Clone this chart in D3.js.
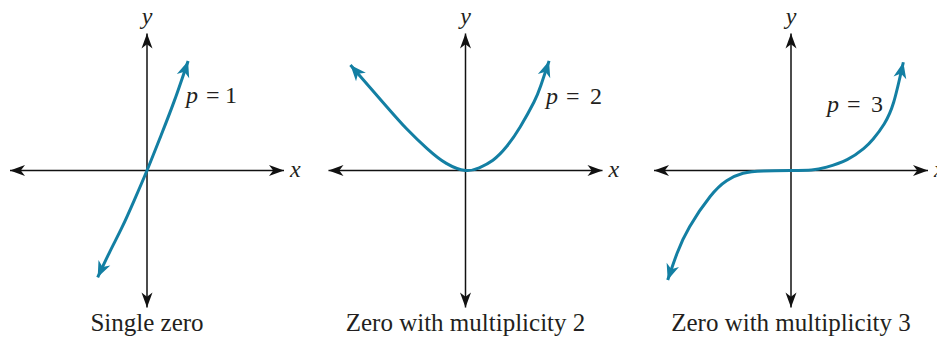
<!DOCTYPE html>
<html>
<head>
<meta charset="utf-8">
<script src="https://cdn.jsdelivr.net/npm/d3@7"></script>
<style>
  body { margin: 0; background: #fff; }
  text { font-family: "Liberation Serif", "DejaVu Serif", serif; fill: #231f20; }
</style>
</head>
<body>
<script>
// panel captions and labels
var captions = ["Single zero", "Zero with multiplicity 2", "Zero with multiplicity 3"];
var powers = ["1", "2", "3"];

// curve points, in axis units (axes run -10..10)
var curve1 = [[-3.6, -7.8], [-2.7, -5.9], [-1.8, -4.1], [-0.9, -2.1], [0, 0], [1.0, 2.5], [2.0, 5.1], [3.0, 8.0]];
var curve2 = [[-8.4, 7.7], [-5.75, 4.66], [-4.3, 3.05], [-2.8, 1.6], [-1.4, 0.52], [0, 0],
              [1.0, 0.2], [2.0, 0.75], [3.0, 1.75], [4.0, 3.2], [5.0, 5.0], [5.5, 6.2], [6.1, 8.0]];
var curve3 = [[-9.0, -8.0], [-8.3, -6.0], [-7.4, -4.1], [-5.9, -1.9], [-4.7, -0.75], [-3.5, -0.2], [-2.0, -0.03], [0, 0],
              [1.5, 0.04], [2.6, 0.25], [4.1, 0.8], [5.3, 1.6], [6.0, 2.3], [6.8, 3.4], [7.5, 5.0], [8.2, 7.9]];
var curves = [curve1, curve2, curve3];

var centers = [147, 465.5, 791];
var cy = 170.5, half = 137;
var teal = "#137fa3", ink = "#111";

var svg = d3.select("body").append("svg")
  .attr("width", 937)
  .attr("height", 339);

var defs = svg.append("defs");
function addMarker(id, color, len, w) {
  defs.append("marker")
    .attr("id", id)
    .attr("viewBox", (-len - 1) + " " + (-w - 1) + " " + (len + 2) + " " + (2 * w + 2))
    .attr("markerWidth", len + 2)
    .attr("markerHeight", 2 * w + 2)
    .attr("markerUnits", "userSpaceOnUse")
    .attr("refX", 0)
    .attr("refY", 0)
    .attr("orient", "auto-start-reverse")
    .append("path")
    .attr("d", "M0,0 L" + (-len) + "," + (-w) + " L" + (-len * 0.72) + ",0 L" + (-len) + "," + w + " Z")
    .attr("fill", color);
}
addMarker("axArrow", ink, 15, 5.5);
addMarker("cvArrow", teal, 16, 6.5);

centers.forEach(function(cx, i) {
  var x = d3.scaleLinear().domain([-10, 10]).range([cx - half, cx + half]);
  var y = d3.scaleLinear().domain([-10, 10]).range([cy + half, cy - half]);
  var g = svg.append("g");

  g.append("line")
    .attr("x1", x(-10)).attr("x2", x(10))
    .attr("y1", y(0)).attr("y2", y(0))
    .attr("stroke", ink).attr("stroke-width", 1.5)
    .attr("marker-start", "url(#axArrow)")
    .attr("marker-end", "url(#axArrow)");
  g.append("line")
    .attr("x1", x(0)).attr("x2", x(0))
    .attr("y1", y(-10)).attr("y2", y(10))
    .attr("stroke", ink).attr("stroke-width", 1.5)
    .attr("marker-start", "url(#axArrow)")
    .attr("marker-end", "url(#axArrow)");

  var line = d3.line()
    .x(function(d) { return x(d[0]); })
    .y(function(d) { return y(d[1]); })
    .curve(d3.curveNatural);

  g.append("path")
    .datum(curves[i])
    .attr("d", line)
    .attr("fill", "none")
    .attr("stroke", teal)
    .attr("stroke-width", 3)
    .attr("marker-start", "url(#cvArrow)")
    .attr("marker-end", "url(#cvArrow)");

  g.append("text")
    .attr("x", x(0)).attr("y", 24)
    .attr("text-anchor", "middle")
    .style("font-size", "24px").style("font-style", "italic")
    .text("y");
  g.append("text")
    .attr("x", x(10) + 6).attr("y", y(0) + 6)
    .style("font-size", "24px").style("font-style", "italic")
    .text("x");

  g.append("text")
    .attr("x", x(0)).attr("y", 331)
    .attr("text-anchor", "middle")
    .style("font-size", "25px")
    .text(captions[i]);
});

// p labels
var plabels = [
  { x: 186, y: 103, eq: 206, num: 225 },
  { x: 546, y: 104, eq: 566, num: 590 },
  { x: 827, y: 112, eq: 847, num: 871 }
];
plabels.forEach(function(p, i) {
  var t = svg.append("text").attr("y", p.y).style("font-size", "24px");
  t.append("tspan").attr("x", p.x).style("font-style", "italic").text("p");
  t.append("tspan").attr("x", p.eq).text("=");
  t.append("tspan").attr("x", p.num).text(powers[i]);
});
</script>
</body>
</html>
